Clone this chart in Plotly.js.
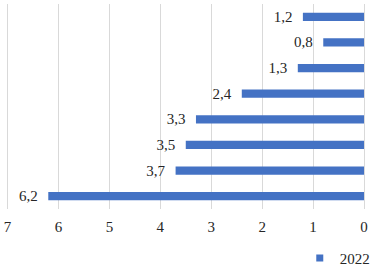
<!DOCTYPE html>
<html>
<head>
<meta charset="utf-8">
<script src="https://cdn.plot.ly/plotly-3.0.1.min.js"></script>
<style>html,body{margin:0;padding:0;background:#fff}#chart{width:376px;height:268px}</style>
</head>
<body>
<div id="chart"></div>
<script>
// Categories listed top to bottom (unlabelled in the original)
var categories = ["c1", "c2", "c3", "c4", "c5", "c6", "c7", "c8"];
var values2022 = [1.2, 0.8, 1.3, 2.4, 3.3, 3.5, 3.7, 6.2];
var seriesName = "2022";
var xTicks = [0, 1, 2, 3, 4, 5, 6, 7];

var FONT = "'Liberation Serif', 'DejaVu Serif', serif";
var TXT = "#262626";
var BLUE = "#4472C4";

var bars = {
  type: "bar",
  orientation: "h",
  name: seriesName,
  y: categories,
  x: values2022,
  marker: {color: BLUE},
  width: 0.32,
  text: values2022.map(function(v){ return String(v).replace(".", ",") + "\u2002"; }),
  textposition: "outside",
  constraintext: "none",
  cliponaxis: false,
  textfont: {family: FONT, size: 15, color: TXT},
  showlegend: false,
  hoverinfo: "none"
};

// legend entry only (small square marker like the original)
var legendEntry = {
  type: "scatter",
  mode: "markers",
  name: seriesName,
  x: [null],
  y: [null],
  marker: {symbol: "square", size: 7, color: BLUE},
  showlegend: true,
  hoverinfo: "none"
};

var layout = {
  width: 376,
  height: 268,
  margin: {l: 5, r: 12, t: 4, b: 59, autoexpand: false},
  paper_bgcolor: "#fff",
  plot_bgcolor: "#fff",
  separators: ", ",
  font: {family: FONT},
  showlegend: true,
  legend: {
    orientation: "h",
    x: 1.03, xanchor: "right",
    y: -0.24, yanchor: "middle",
    font: {family: FONT, size: 15, color: TXT},
    itemwidth: 30,
    bgcolor: "rgba(0,0,0,0)"
  },
  xaxis: {
    range: [7.05, 0],
    tickvals: xTicks,
    showgrid: true,
    gridcolor: "#d9d9d9",
    gridwidth: 1,
    zeroline: true,
    zerolinecolor: "#d9d9d9",
    zerolinewidth: 1,
    showline: false,
    ticks: "",
    ticklabelstandoff: 7,
    tickfont: {family: FONT, size: 15, color: TXT},
    fixedrange: true
  },
  yaxis: {
    categoryorder: "array",
    categoryarray: categories,
    autorange: "reversed",
    showticklabels: false,
    showgrid: false,
    zeroline: false,
    ticks: "",
    fixedrange: true
  }
};

Plotly.newPlot("chart", [bars, legendEntry], layout, {displayModeBar: false, staticPlot: true});
</script>
</body>
</html>
